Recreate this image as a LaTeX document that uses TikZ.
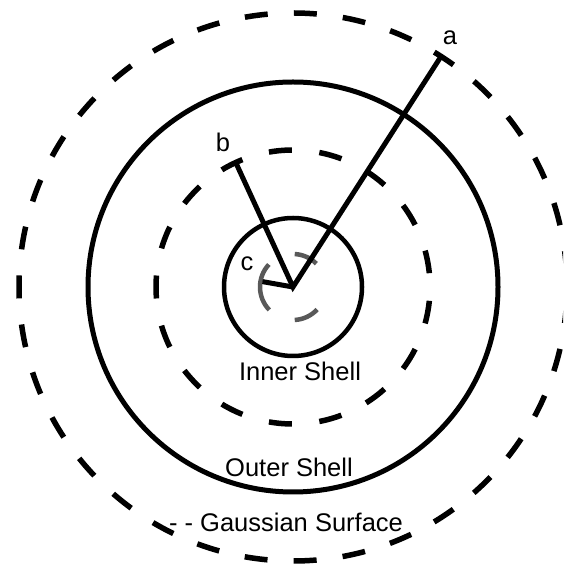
\documentclass[tikz,border=0pt]{standalone}
\usepackage{fontspec}
\setmainfont{Liberation Sans}
\usetikzlibrary{calc}
\tikzset{
  shell/.style={line width=5pt, black},
  gsout/.style={line width=5.5pt, dash pattern=on 23pt off 26.19pt, dash phase=36.1pt},
  gsin/.style={line width=5.5pt, dash pattern=on 23pt off 27.64pt, dash phase=36.82pt},
  chg/.style={line width=4.5pt, black!65},
  rad/.style={line width=5pt, line join=miter},
  lbl/.style={font=\fontsize{25.5}{30}\selectfont, inner sep=0pt},
}

\begin{document}
\begin{tikzpicture}[x=1pt,y=1pt]
  \clip (0,0) rectangle (563,567);
  \coordinate (O) at (293,280);
  \draw[gsout] (O) circle (274);
  \draw[shell] (O) circle (205);
  \draw[gsin] (O) circle (137);
  \draw[shell, line width=4.5pt] (O) circle (69);
  % gray dashes round the centre
  \draw[chg] ([shift={(45:33)}]O) arc (45:87:33);
  \draw[chg] ([shift={(-87:33)}]O) arc (-87:-43:33);
  \draw[chg] ([shift={(137:33)}]O) arc (137:224:33);
  % radii
  \coordinate (a) at ($(O)+(57.3:276)$);
  \coordinate (b) at ($(O)+(114.7:136)$);
  \coordinate (c) at ($(O)+(170:31)$);
  \draw[rad] (a) -- (O) -- (b);
  \draw[rad] (O) -- (c);
  \node[lbl, anchor=base] (la) at (450,522) {a};
  \node[lbl, anchor=base] (lb) at (223,415) {b};
  \node[lbl, anchor=base] (lc) at (247,296) {c};
  \node[lbl] (inner) at (300,196) {Inner Shell};
  \node[lbl] (outer) at (289,99.5) {Outer Shell};
  \node[lbl] (gauss) at (286,44.5) {- - Gaussian Surface};
\end{tikzpicture}
\end{document}
